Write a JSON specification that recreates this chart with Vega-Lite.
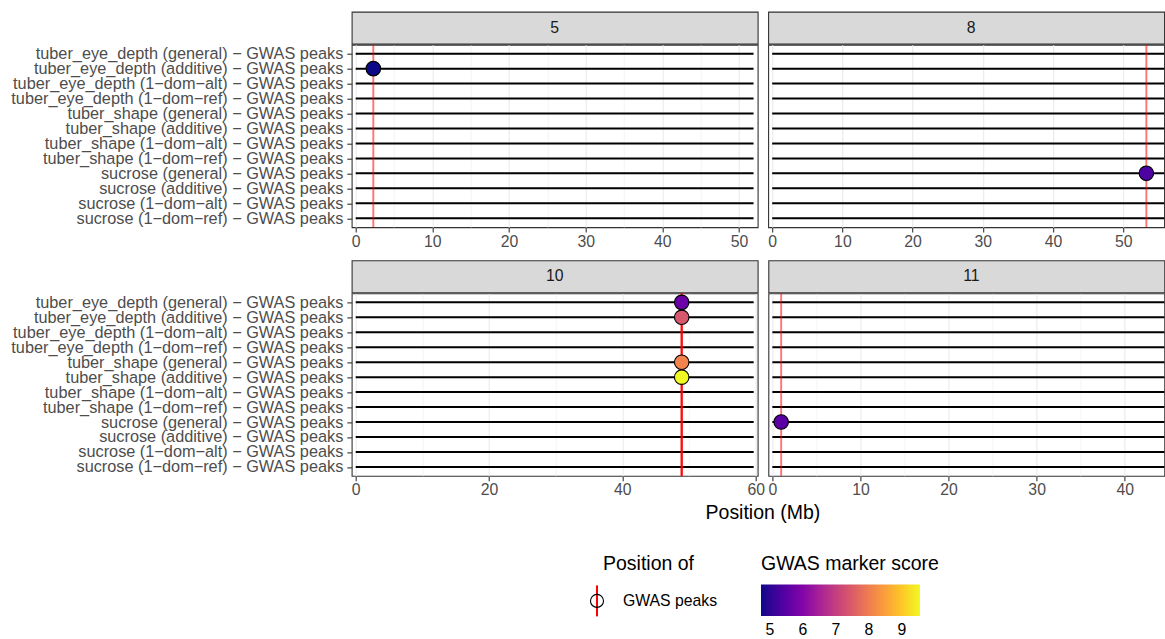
{
  "$schema": "https://vega.github.io/schema/vega-lite/v6.json",
  "padding": {"top": 10.7, "left": 9.7, "right": 0, "bottom": 0},
  "title": {"text": "Position (Mb)", "orient": "bottom", "anchor": "start", "frame": "bounds", "offset": -134.6, "dx": 695.3,
    "fontSize": 19.5, "fontWeight": "normal", "color": "black", "font": "Liberation Sans"},
  "datasets": {
    "lines": [
      {"chr": "5", "trait": "tuber_eye_depth (general) − GWAS peaks", "end": 51.9},
      {"chr": "5", "trait": "tuber_eye_depth (additive) − GWAS peaks", "end": 51.9},
      {"chr": "5", "trait": "tuber_eye_depth (1−dom−alt) − GWAS peaks", "end": 51.9},
      {"chr": "5", "trait": "tuber_eye_depth (1−dom−ref) − GWAS peaks", "end": 51.9},
      {"chr": "5", "trait": "tuber_shape (general) − GWAS peaks", "end": 51.9},
      {"chr": "5", "trait": "tuber_shape (additive) − GWAS peaks", "end": 51.9},
      {"chr": "5", "trait": "tuber_shape (1−dom−alt) − GWAS peaks", "end": 51.9},
      {"chr": "5", "trait": "tuber_shape (1−dom−ref) − GWAS peaks", "end": 51.9},
      {"chr": "5", "trait": "sucrose (general) − GWAS peaks", "end": 51.9},
      {"chr": "5", "trait": "sucrose (additive) − GWAS peaks", "end": 51.9},
      {"chr": "5", "trait": "sucrose (1−dom−alt) − GWAS peaks", "end": 51.9},
      {"chr": "5", "trait": "sucrose (1−dom−ref) − GWAS peaks", "end": 51.9},
      {"chr": "8", "trait": "tuber_eye_depth (general) − GWAS peaks", "end": 56.7},
      {"chr": "8", "trait": "tuber_eye_depth (additive) − GWAS peaks", "end": 56.7},
      {"chr": "8", "trait": "tuber_eye_depth (1−dom−alt) − GWAS peaks", "end": 56.7},
      {"chr": "8", "trait": "tuber_eye_depth (1−dom−ref) − GWAS peaks", "end": 56.7},
      {"chr": "8", "trait": "tuber_shape (general) − GWAS peaks", "end": 56.7},
      {"chr": "8", "trait": "tuber_shape (additive) − GWAS peaks", "end": 56.7},
      {"chr": "8", "trait": "tuber_shape (1−dom−alt) − GWAS peaks", "end": 56.7},
      {"chr": "8", "trait": "tuber_shape (1−dom−ref) − GWAS peaks", "end": 56.7},
      {"chr": "8", "trait": "sucrose (general) − GWAS peaks", "end": 56.7},
      {"chr": "8", "trait": "sucrose (additive) − GWAS peaks", "end": 56.7},
      {"chr": "8", "trait": "sucrose (1−dom−alt) − GWAS peaks", "end": 56.7},
      {"chr": "8", "trait": "sucrose (1−dom−ref) − GWAS peaks", "end": 56.7},
      {"chr": "10", "trait": "tuber_eye_depth (general) − GWAS peaks", "end": 59.7},
      {"chr": "10", "trait": "tuber_eye_depth (additive) − GWAS peaks", "end": 59.7},
      {"chr": "10", "trait": "tuber_eye_depth (1−dom−alt) − GWAS peaks", "end": 59.7},
      {"chr": "10", "trait": "tuber_eye_depth (1−dom−ref) − GWAS peaks", "end": 59.7},
      {"chr": "10", "trait": "tuber_shape (general) − GWAS peaks", "end": 59.7},
      {"chr": "10", "trait": "tuber_shape (additive) − GWAS peaks", "end": 59.7},
      {"chr": "10", "trait": "tuber_shape (1−dom−alt) − GWAS peaks", "end": 59.7},
      {"chr": "10", "trait": "tuber_shape (1−dom−ref) − GWAS peaks", "end": 59.7},
      {"chr": "10", "trait": "sucrose (general) − GWAS peaks", "end": 59.7},
      {"chr": "10", "trait": "sucrose (additive) − GWAS peaks", "end": 59.7},
      {"chr": "10", "trait": "sucrose (1−dom−alt) − GWAS peaks", "end": 59.7},
      {"chr": "10", "trait": "sucrose (1−dom−ref) − GWAS peaks", "end": 59.7},
      {"chr": "11", "trait": "tuber_eye_depth (general) − GWAS peaks", "end": 45.2},
      {"chr": "11", "trait": "tuber_eye_depth (additive) − GWAS peaks", "end": 45.2},
      {"chr": "11", "trait": "tuber_eye_depth (1−dom−alt) − GWAS peaks", "end": 45.2},
      {"chr": "11", "trait": "tuber_eye_depth (1−dom−ref) − GWAS peaks", "end": 45.2},
      {"chr": "11", "trait": "tuber_shape (general) − GWAS peaks", "end": 45.2},
      {"chr": "11", "trait": "tuber_shape (additive) − GWAS peaks", "end": 45.2},
      {"chr": "11", "trait": "tuber_shape (1−dom−alt) − GWAS peaks", "end": 45.2},
      {"chr": "11", "trait": "tuber_shape (1−dom−ref) − GWAS peaks", "end": 45.2},
      {"chr": "11", "trait": "sucrose (general) − GWAS peaks", "end": 45.2},
      {"chr": "11", "trait": "sucrose (additive) − GWAS peaks", "end": 45.2},
      {"chr": "11", "trait": "sucrose (1−dom−alt) − GWAS peaks", "end": 45.2},
      {"chr": "11", "trait": "sucrose (1−dom−ref) − GWAS peaks", "end": 45.2}
    ],
    "peaks": [
      {"chr": "5", "trait": "tuber_eye_depth (additive) − GWAS peaks", "pos": 2.3, "score": 4.73, "kind": "GWAS peaks"},
      {"chr": "8", "trait": "sucrose (general) − GWAS peaks", "pos": 53.3, "score": 5.35, "kind": "GWAS peaks"},
      {"chr": "10", "trait": "tuber_eye_depth (general) − GWAS peaks", "pos": 48.9, "score": 5.7, "kind": "GWAS peaks"},
      {"chr": "10", "trait": "tuber_eye_depth (additive) − GWAS peaks", "pos": 48.9, "score": 7.4, "kind": "GWAS peaks"},
      {"chr": "10", "trait": "tuber_shape (general) − GWAS peaks", "pos": 48.9, "score": 8.1, "kind": "GWAS peaks"},
      {"chr": "10", "trait": "tuber_shape (additive) − GWAS peaks", "pos": 48.9, "score": 9.55, "kind": "GWAS peaks"},
      {"chr": "11", "trait": "sucrose (general) − GWAS peaks", "pos": 1.0, "score": 5.5, "kind": "GWAS peaks"}
    ]
  },
  "vconcat": [
    {
      "hconcat": [
        {
          "vconcat": [
            {
              "data": {"values": [{"label": "5"}]},
              "width": 406, "height": 32,
              "view": {"fill": "#d9d9d9", "stroke": "#333333", "strokeWidth": 1.1},
              "mark": {"type": "text", "fontSize": 15.8, "color": "#1a1a1a", "font": "Liberation Sans"},
              "encoding": {"text": {"field": "label", "type": "nominal"}}
            },
            {
              "width": 406, "height": 182.5,
              "view": {"fill": "white", "stroke": "#333333", "strokeWidth": 1.1},
              "layer": [
                {
                  "data": {"name": "lines"},
                  "transform": [{"filter": "datum.chr === '5'"}],
                  "mark": {"type": "rule", "color": "black", "strokeWidth": 2},
                  "encoding": {
                    "x": {"field": "end", "type": "quantitative",
                      "scale": {"domain": [-0.52, 52.44], "nice": false, "zero": false},
                      "axis": {"values": [0, 5, 10, 15, 20, 25, 30, 35, 40, 45, 50],
                        "labelExpr": "datum.value % 10 === 0 ? datum.label : ''",
                        "tickOpacity": {"condition": {"test": "datum.value % 10 === 0", "value": 1}, "value": 0},
                        "gridWidth": {"condition": {"test": "datum.value % 10 === 0", "value": 1.1}, "value": 0.55},
                        "title": null}},
                    "x2": {"datum": 0},
                    "y": {"field": "trait", "type": "nominal",
                      "scale": {"type": "point", "padding": 0.6, "domain": [
                        "tuber_eye_depth (general) − GWAS peaks", "tuber_eye_depth (additive) − GWAS peaks", "tuber_eye_depth (1−dom−alt) − GWAS peaks", "tuber_eye_depth (1−dom−ref) − GWAS peaks",
                        "tuber_shape (general) − GWAS peaks", "tuber_shape (additive) − GWAS peaks", "tuber_shape (1−dom−alt) − GWAS peaks", "tuber_shape (1−dom−ref) − GWAS peaks",
                        "sucrose (general) − GWAS peaks", "sucrose (additive) − GWAS peaks", "sucrose (1−dom−alt) − GWAS peaks", "sucrose (1−dom−ref) − GWAS peaks"]},
                      "axis": {"title": null, "labelFontSize": 16.3, "labelPadding": 4, "labelLimit": 600, "grid": false}}
                  }
                },
                {
                  "data": {"name": "peaks"},
                  "transform": [{"filter": "datum.chr === '5'"}],
                  "mark": {"type": "rule", "color": "red", "strokeWidth": 1.9, "opacity": 0.55},
                  "encoding": {
                    "x": {"field": "pos", "type": "quantitative"},
                    "stroke": {"field": "kind", "type": "nominal",
                      "scale": {"domain": ["GWAS peaks"], "range": ["red"]},
                      "legend": {"title": "Position of", "orient": "none", "legendX": 228.8, "legendY": 543,
                        "symbolType": "M0,-1L0,1", "symbolSize": 961, "symbolStrokeWidth": 2, "symbolOpacity": 1,
                        "labelFontSize": 15.8, "labelColor": "black", "labelOffset": 9.5, "labelLimit": 400,
                        "titleFontSize": 19.5, "titleFontWeight": "normal", "titleColor": "black", "titlePadding": 10.2,
                        "titleAnchor": "middle", "titleLimit": 400, "padding": 0}}
                  }
                },
                {
                  "data": {"name": "peaks"},
                  "transform": [{"filter": "datum.chr === '5'"}],
                  "mark": {"type": "point", "filled": true, "stroke": "black", "strokeWidth": 1.1, "opacity": 1, "size": 1190},
                  "encoding": {
                    "x": {"field": "pos", "type": "quantitative"},
                    "y": {"field": "trait", "type": "nominal"},
                    "fill": {"field": "score", "type": "quantitative",
                      "scale": {"scheme": "plasma", "nice": false, "zero": false},
                      "legend": {"title": "GWAS marker score", "orient": "none", "legendX": 409.3, "legendY": 543,
                        "direction": "horizontal", "gradientLength": 159, "gradientThickness": 31.7, "gradientStrokeWidth": 0,
                        "values": [5, 6, 7, 8, 9], "labelFontSize": 15.8, "labelColor": "black", "labelOffset": 7, "labelOverlap": false,
                        "titleFontSize": 19.5, "titleFontWeight": "normal", "titleColor": "black", "titlePadding": 10.2, "titleLimit": 400, "padding": 0}},
                    "shape": {"field": "kind", "type": "nominal",
                      "scale": {"range": ["M -0.42 0 A 0.42 0.42 0 1 1 0.42 0 A 0.42 0.42 0 1 1 -0.42 0 Z"]},
                      "legend": {"title": "Position of", "orient": "none", "legendX": 228.8, "legendY": 543,
                        "symbolSize": 961, "symbolStrokeColor": "black", "symbolFillColor": "transparent", "symbolStrokeWidth": 1.1, "symbolOpacity": 1,
                        "labelFontSize": 15.8, "labelColor": "transparent", "labelOffset": 9.5, "labelLimit": 400,
                        "titleFontSize": 19.5, "titleFontWeight": "normal", "titleColor": "transparent", "titlePadding": 10.2,
                        "titleAnchor": "middle", "titleLimit": 400, "padding": 0}}
                  }
                }
              ]
            }
          ],
          "spacing": -3
        },
        {
          "vconcat": [
            {
              "data": {"values": [{"label": "8"}]},
              "width": 396, "height": 32,
              "view": {"fill": "#d9d9d9", "stroke": "#333333", "strokeWidth": 1.1},
              "mark": {"type": "text", "fontSize": 15.8, "color": "#1a1a1a", "font": "Liberation Sans", "dx": 5},
              "encoding": {"text": {"field": "label", "type": "nominal"}}
            },
            {
              "width": 396, "height": 182.5,
              "view": {"fill": "white", "stroke": "#333333", "strokeWidth": 1.1},
              "layer": [
                {
                  "data": {"name": "lines"},
                  "transform": [{"filter": "datum.chr === '8'"}],
                  "mark": {"type": "rule", "color": "black", "strokeWidth": 2, "clip": true},
                  "encoding": {
                    "x": {"field": "end", "type": "quantitative",
                      "scale": {"domain": [-0.57, 55.84], "nice": false, "zero": false},
                      "axis": {"values": [0, 5, 10, 15, 20, 25, 30, 35, 40, 45, 50, 55],
                        "labelExpr": "datum.value % 10 === 0 ? datum.label : ''",
                        "tickOpacity": {"condition": {"test": "datum.value % 10 === 0", "value": 1}, "value": 0},
                        "gridWidth": {"condition": {"test": "datum.value % 10 === 0", "value": 1.1}, "value": 0.55},
                        "title": null}},
                    "x2": {"datum": 0},
                    "y": {"field": "trait", "type": "nominal",
                      "scale": {"type": "point", "padding": 0.6, "domain": [
                        "tuber_eye_depth (general) − GWAS peaks", "tuber_eye_depth (additive) − GWAS peaks", "tuber_eye_depth (1−dom−alt) − GWAS peaks", "tuber_eye_depth (1−dom−ref) − GWAS peaks",
                        "tuber_shape (general) − GWAS peaks", "tuber_shape (additive) − GWAS peaks", "tuber_shape (1−dom−alt) − GWAS peaks", "tuber_shape (1−dom−ref) − GWAS peaks",
                        "sucrose (general) − GWAS peaks", "sucrose (additive) − GWAS peaks", "sucrose (1−dom−alt) − GWAS peaks", "sucrose (1−dom−ref) − GWAS peaks"]},
                      "axis": null}
                  }
                },
                {
                  "data": {"name": "peaks"},
                  "transform": [{"filter": "datum.chr === '8'"}],
                  "mark": {"type": "rule", "color": "red", "strokeWidth": 1.9, "opacity": 0.55},
                  "encoding": {"x": {"field": "pos", "type": "quantitative"}}
                },
                {
                  "data": {"name": "peaks"},
                  "transform": [{"filter": "datum.chr === '8'"}],
                  "mark": {"type": "point", "filled": true, "stroke": "black", "strokeWidth": 1.1, "opacity": 1, "size": 1190,
                    "shape": "M -0.42 0 A 0.42 0.42 0 1 1 0.42 0 A 0.42 0.42 0 1 1 -0.42 0 Z"},
                  "encoding": {
                    "x": {"field": "pos", "type": "quantitative"},
                    "y": {"field": "trait", "type": "nominal"},
                    "fill": {"field": "score", "type": "quantitative",
                      "scale": {"scheme": "plasma", "nice": false, "zero": false},
                      "legend": {"title": "GWAS marker score", "orient": "none", "legendX": 409.3, "legendY": 543,
                        "direction": "horizontal", "gradientLength": 159, "gradientThickness": 31.7, "gradientStrokeWidth": 0,
                        "values": [5, 6, 7, 8, 9], "labelFontSize": 15.8, "labelColor": "black", "labelOffset": 7, "labelOverlap": false,
                        "titleFontSize": 19.5, "titleFontWeight": "normal", "titleColor": "black", "titlePadding": 10.2, "titleLimit": 400, "padding": 0}}
                  }
                }
              ]
            }
          ],
          "spacing": -3
        }
      ],
      "spacing": 8.5
    },
    {
      "hconcat": [
        {
          "vconcat": [
            {
              "data": {"values": [{"label": "10"}]},
              "width": 406, "height": 32,
              "view": {"fill": "#d9d9d9", "stroke": "#333333", "strokeWidth": 1.1},
              "mark": {"type": "text", "fontSize": 15.8, "color": "#1a1a1a", "font": "Liberation Sans"},
              "encoding": {"text": {"field": "label", "type": "nominal"}}
            },
            {
              "width": 406, "height": 182.5,
              "view": {"fill": "white", "stroke": "#333333", "strokeWidth": 1.1},
              "layer": [
                {
                  "data": {"name": "lines"},
                  "transform": [{"filter": "datum.chr === '10'"}],
                  "mark": {"type": "rule", "color": "black", "strokeWidth": 2},
                  "encoding": {
                    "x": {"field": "end", "type": "quantitative",
                      "scale": {"domain": [-0.6, 60.3], "nice": false, "zero": false},
                      "axis": {"values": [0, 10, 20, 30, 40, 50, 60],
                        "labelExpr": "datum.value % 20 === 0 ? datum.label : ''",
                        "tickOpacity": {"condition": {"test": "datum.value % 20 === 0", "value": 1}, "value": 0},
                        "gridWidth": {"condition": {"test": "datum.value % 20 === 0", "value": 1.1}, "value": 0.55},
                        "title": null}},
                    "x2": {"datum": 0},
                    "y": {"field": "trait", "type": "nominal",
                      "scale": {"type": "point", "padding": 0.6, "domain": [
                        "tuber_eye_depth (general) − GWAS peaks", "tuber_eye_depth (additive) − GWAS peaks", "tuber_eye_depth (1−dom−alt) − GWAS peaks", "tuber_eye_depth (1−dom−ref) − GWAS peaks",
                        "tuber_shape (general) − GWAS peaks", "tuber_shape (additive) − GWAS peaks", "tuber_shape (1−dom−alt) − GWAS peaks", "tuber_shape (1−dom−ref) − GWAS peaks",
                        "sucrose (general) − GWAS peaks", "sucrose (additive) − GWAS peaks", "sucrose (1−dom−alt) − GWAS peaks", "sucrose (1−dom−ref) − GWAS peaks"]},
                      "axis": {"title": null, "labelFontSize": 16.3, "labelPadding": 4, "labelLimit": 600, "grid": false}}
                  }
                },
                {
                  "data": {"name": "peaks"},
                  "transform": [{"filter": "datum.chr === '10'"}],
                  "mark": {"type": "rule", "color": "red", "strokeWidth": 1.9, "opacity": 0.55},
                  "encoding": {"x": {"field": "pos", "type": "quantitative"}}
                },
                {
                  "data": {"name": "peaks"},
                  "transform": [{"filter": "datum.chr === '10'"}],
                  "mark": {"type": "point", "filled": true, "stroke": "black", "strokeWidth": 1.1, "opacity": 1, "size": 1190,
                    "shape": "M -0.42 0 A 0.42 0.42 0 1 1 0.42 0 A 0.42 0.42 0 1 1 -0.42 0 Z"},
                  "encoding": {
                    "x": {"field": "pos", "type": "quantitative"},
                    "y": {"field": "trait", "type": "nominal"},
                    "fill": {"field": "score", "type": "quantitative",
                      "scale": {"scheme": "plasma", "nice": false, "zero": false},
                      "legend": {"title": "GWAS marker score", "orient": "none", "legendX": 409.3, "legendY": 543,
                        "direction": "horizontal", "gradientLength": 159, "gradientThickness": 31.7, "gradientStrokeWidth": 0,
                        "values": [5, 6, 7, 8, 9], "labelFontSize": 15.8, "labelColor": "black", "labelOffset": 7, "labelOverlap": false,
                        "titleFontSize": 19.5, "titleFontWeight": "normal", "titleColor": "black", "titlePadding": 10.2, "titleLimit": 400, "padding": 0}}
                  }
                }
              ]
            }
          ],
          "spacing": -3
        },
        {
          "vconcat": [
            {
              "data": {"values": [{"label": "11"}]},
              "width": 396, "height": 32,
              "view": {"fill": "#d9d9d9", "stroke": "#333333", "strokeWidth": 1.1},
              "mark": {"type": "text", "fontSize": 15.8, "color": "#1a1a1a", "font": "Liberation Sans", "dx": 5},
              "encoding": {"text": {"field": "label", "type": "nominal"}}
            },
            {
              "width": 396, "height": 182.5,
              "view": {"fill": "white", "stroke": "#333333", "strokeWidth": 1.1},
              "layer": [
                {
                  "data": {"name": "lines"},
                  "transform": [{"filter": "datum.chr === '11'"}],
                  "mark": {"type": "rule", "color": "black", "strokeWidth": 2, "clip": true},
                  "encoding": {
                    "x": {"field": "end", "type": "quantitative",
                      "scale": {"domain": [-0.45, 44.5], "nice": false, "zero": false},
                      "axis": {"values": [0, 5, 10, 15, 20, 25, 30, 35, 40],
                        "labelExpr": "datum.value % 10 === 0 ? datum.label : ''",
                        "tickOpacity": {"condition": {"test": "datum.value % 10 === 0", "value": 1}, "value": 0},
                        "gridWidth": {"condition": {"test": "datum.value % 10 === 0", "value": 1.1}, "value": 0.55},
                        "title": null}},
                    "x2": {"datum": 0},
                    "y": {"field": "trait", "type": "nominal",
                      "scale": {"type": "point", "padding": 0.6, "domain": [
                        "tuber_eye_depth (general) − GWAS peaks", "tuber_eye_depth (additive) − GWAS peaks", "tuber_eye_depth (1−dom−alt) − GWAS peaks", "tuber_eye_depth (1−dom−ref) − GWAS peaks",
                        "tuber_shape (general) − GWAS peaks", "tuber_shape (additive) − GWAS peaks", "tuber_shape (1−dom−alt) − GWAS peaks", "tuber_shape (1−dom−ref) − GWAS peaks",
                        "sucrose (general) − GWAS peaks", "sucrose (additive) − GWAS peaks", "sucrose (1−dom−alt) − GWAS peaks", "sucrose (1−dom−ref) − GWAS peaks"]},
                      "axis": null}
                  }
                },
                {
                  "data": {"name": "peaks"},
                  "transform": [{"filter": "datum.chr === '11'"}],
                  "mark": {"type": "rule", "color": "red", "strokeWidth": 1.9, "opacity": 0.55},
                  "encoding": {"x": {"field": "pos", "type": "quantitative"}}
                },
                {
                  "data": {"name": "peaks"},
                  "transform": [{"filter": "datum.chr === '11'"}],
                  "mark": {"type": "point", "filled": true, "stroke": "black", "strokeWidth": 1.1, "opacity": 1, "size": 1190,
                    "shape": "M -0.42 0 A 0.42 0.42 0 1 1 0.42 0 A 0.42 0.42 0 1 1 -0.42 0 Z"},
                  "encoding": {
                    "x": {"field": "pos", "type": "quantitative"},
                    "y": {"field": "trait", "type": "nominal"},
                    "fill": {"field": "score", "type": "quantitative",
                      "scale": {"scheme": "plasma", "nice": false, "zero": false},
                      "legend": {"title": "GWAS marker score", "orient": "none", "legendX": 409.3, "legendY": 543,
                        "direction": "horizontal", "gradientLength": 159, "gradientThickness": 31.7, "gradientStrokeWidth": 0,
                        "values": [5, 6, 7, 8, 9], "labelFontSize": 15.8, "labelColor": "black", "labelOffset": 7, "labelOverlap": false,
                        "titleFontSize": 19.5, "titleFontWeight": "normal", "titleColor": "black", "titlePadding": 10.2, "titleLimit": 400, "padding": 0}}
                  }
                }
              ]
            }
          ],
          "spacing": -3
        }
      ],
      "spacing": 1.7
    }
  ],
  "spacing": 9.7,
  "config": {
    "font": "Liberation Sans",
    "view": {"stroke": "#333333"},
    "axis": {
      "domain": false, "tickColor": "#333333", "tickWidth": 1.1, "tickSize": 4.9,
      "labelColor": "#4d4d4d", "labelFontSize": 15.8, "labelFont": "Liberation Sans", "labelPadding": 2,
      "labelFlush": false, "labelOverlap": false,
      "gridColor": "#ebebeb",
      "titleFont": "Liberation Sans", "titleFontWeight": "normal", "titleColor": "black", "titleFontSize": 19.5
    },
    "legend": {"labelFont": "Liberation Sans", "titleFont": "Liberation Sans"}
  }
}
